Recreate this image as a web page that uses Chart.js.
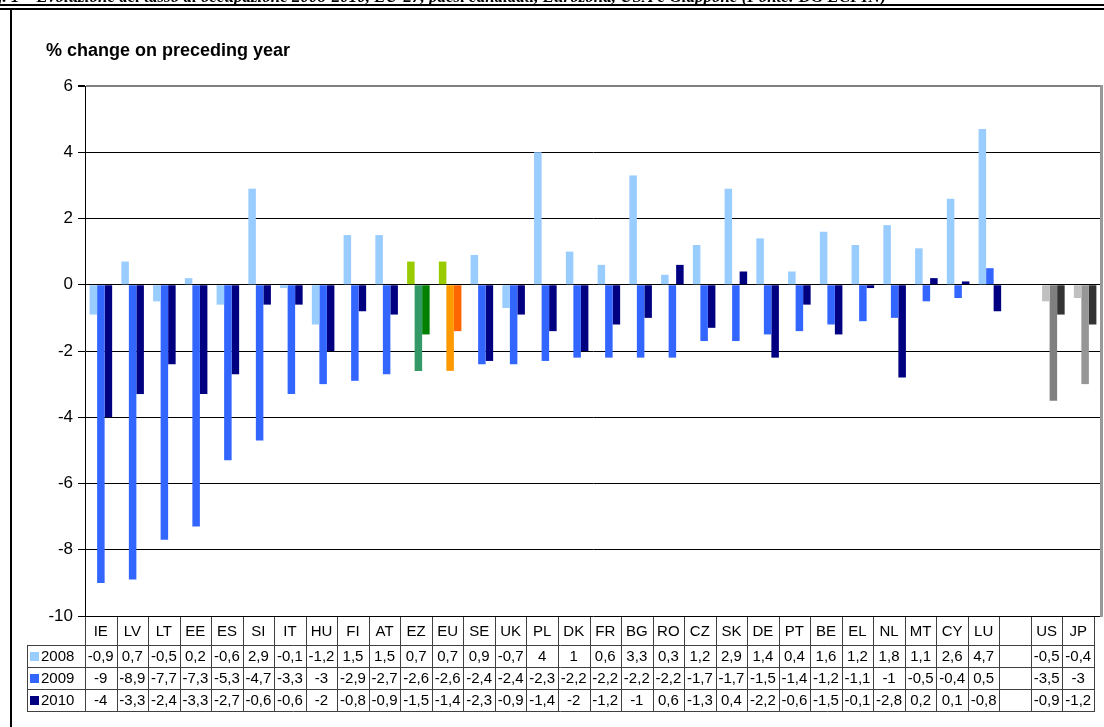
<!DOCTYPE html>
<html>
<head>
<meta charset="utf-8">
<script src="https://cdn.jsdelivr.net/npm/chart.js@4/dist/chart.umd.min.js"></script>
<style>
  html, body { margin: 0; padding: 0; background: #fff; }
  #wrap { width: 1104px; height: 727px; position: relative; }
</style>
</head>
<body>
<div id="wrap"><canvas id="c" width="1104" height="727"></canvas></div>
<script>
// Employment growth, % change on preceding year
const categories = ['IE','LV','LT','EE','ES','SI','IT','HU','FI','AT','EZ','EU','SE','UK','PL','DK','FR','BG','RO','CZ','SK','DE','PT','BE','EL','NL','MT','CY','LU','','US','JP'];
const years = ['2008', '2009', '2010'];
const v2008 = [-0.9,0.7,-0.5,0.2,-0.6,2.9,-0.1,-1.2,1.5,1.5,0.7,0.7,0.9,-0.7,4,1,0.6,3.3,0.3,1.2,2.9,1.4,0.4,1.6,1.2,1.8,1.1,2.6,4.7,null,-0.5,-0.4];
const v2009 = [-9,-8.9,-7.7,-7.3,-5.3,-4.7,-3.3,-3,-2.9,-2.7,-2.6,-2.6,-2.4,-2.4,-2.3,-2.2,-2.2,-2.2,-2.2,-1.7,-1.7,-1.5,-1.4,-1.2,-1.1,-1,-0.5,-0.4,0.5,null,-3.5,-3];
const v2010 = [-4,-3.3,-2.4,-3.3,-2.7,-0.6,-0.6,-2,-0.8,-0.9,-1.5,-1.4,-2.3,-0.9,-1.4,-2,-1.2,-1,0.6,-1.3,0.4,-2.2,-0.6,-1.5,-0.1,-2.8,0.2,0.1,-0.8,null,-0.9,-1.2];
const yTicks = [6, 4, 2, 0, -2, -4, -6, -8, -10];

// series colours, with aggregates and non-EU economies highlighted
const seriesColors = ['#99ccff', '#3366ff', '#000080'];
const highlight = {
  EZ: ['#99cc00', '#339966', '#008000'],
  EU: ['#99cc00', '#ff9900', '#ff6600'],
  US: ['#c0c0c0', '#808080', '#333333'],
  JP: ['#c0c0c0', '#969696', '#333333']
};
const colorsFor = (i) => categories.map(c => highlight[c] ? highlight[c][i] : seriesColors[i]);
const seriesValues = [v2008, v2009, v2010];

const fmt = (v) => v === null || v === undefined ? '' : String(v).replace('.', ',');

// table geometry under the plot
const TBL = { left: 85, right: 1094, legendLeft: 27, headTop: 617, rowTops: [645, 667, 689], rowBottom: 711 };

const framePlugin = {
  id: 'frame',
  beforeDraw(chart) {
    const ctx = chart.ctx;
    ctx.save();
    ctx.fillStyle = '#fff';
    ctx.fillRect(0, 0, chart.width, chart.height);
    // caption running off the top edge
    ctx.fillStyle = '#000';
    ctx.font = 'bold italic 17px "Liberation Serif"';
    ctx.textBaseline = 'alphabetic';
    ctx.textAlign = 'left';
    ctx.fillText('Fig. 1 – Evoluzione del tasso di occupazione 2008-2010, EU-27, paesi candidati, Eurozona, USA e Giappone (Fonte: DG ECFIN)', -22, 2);
    // double rule and box edge
    ctx.fillRect(0, 4, chart.width, 2);
    ctx.fillRect(0, 8, chart.width, 2);
    ctx.fillRect(10, 8, 2, chart.height - 8);
    ctx.restore();
  },
  afterDraw(chart) {
    const ctx = chart.ctx;
    const area = chart.chartArea;
    ctx.save();
    // unit title
    ctx.fillStyle = '#000';
    ctx.font = 'bold 18px "Liberation Sans", Arial, sans-serif';
    ctx.textAlign = 'left';
    ctx.textBaseline = 'alphabetic';
    ctx.fillText('% change on preceding year', 46, 56);
    // plot frame on the right
    ctx.fillStyle = '#999';
    ctx.fillRect(area.right - 1, area.top - 1, 3, area.bottom - area.top + 2);

    // data table
    const n = categories.length;
    const colW = (TBL.right - TBL.left) / n;
    ctx.strokeStyle = '#404040';
    ctx.lineWidth = 1;
    const line = (x1, y1, x2, y2) => { ctx.beginPath(); ctx.moveTo(x1, y1); ctx.lineTo(x2, y2); ctx.stroke(); };
    // horizontal rules
    TBL.rowTops.forEach(y => line(TBL.legendLeft, y + 0.5, TBL.right, y + 0.5));
    line(TBL.legendLeft, TBL.rowBottom + 0.5, TBL.right, TBL.rowBottom + 0.5);
    // vertical rules
    for (let i = 0; i <= n; i++) {
      const x = Math.round(TBL.left + i * colW) + 0.5;
      line(x, TBL.headTop, x, TBL.rowBottom + 1);
    }
    line(TBL.legendLeft + 0.5, TBL.rowTops[0], TBL.legendLeft + 0.5, TBL.rowBottom + 1);

    ctx.fillStyle = '#000';
    ctx.font = '15px "Liberation Sans", Arial, sans-serif';
    ctx.textAlign = 'center';
    ctx.textBaseline = 'middle';
    categories.forEach((c, i) => {
      ctx.fillText(c, TBL.left + (i + 0.5) * colW, (TBL.headTop + TBL.rowTops[0]) / 2 + 1);
    });
    seriesValues.forEach((vals, r) => {
      const top = TBL.rowTops[r];
      const bottom = r < 2 ? TBL.rowTops[r + 1] : TBL.rowBottom;
      const cy = (top + bottom) / 2 + 1;
      // legend key
      ctx.fillStyle = seriesColors[r];
      ctx.fillRect(TBL.legendLeft + 3, cy - 5, 9, 9);
      ctx.fillStyle = '#000';
      ctx.textAlign = 'left';
      ctx.fillText(years[r], TBL.legendLeft + 14, cy);
      ctx.textAlign = 'center';
      vals.forEach((v, i) => {
        ctx.fillText(fmt(v), TBL.left + (i + 0.5) * colW, cy);
      });
    });
    ctx.restore();
  }
};

new Chart(document.getElementById('c'), {
  type: 'bar',
  data: {
    labels: categories,
    datasets: seriesValues.map((vals, i) => ({
      label: years[i],
      data: vals,
      backgroundColor: colorsFor(i),
      borderWidth: 0,
      categoryPercentage: 0.71,
      barPercentage: 1.0
    }))
  },
  options: {
    responsive: false,
    animation: false,
    devicePixelRatio: 1,
    layout: { padding: { left: 0, right: 3, top: 86, bottom: 111 } },
    plugins: {
      legend: { display: false },
      tooltip: { enabled: false },
      title: { display: false }
    },
    scales: {
      x: { display: false },
      y: {
        min: -10,
        max: 6,
        afterFit(scale) { scale.width = 85; },
        afterBuildTicks(scale) { scale.ticks = yTicks.map(v => ({ value: v })); },
        ticks: {
          color: '#000',
          padding: 5,
          font: { family: '"Liberation Sans", Arial, sans-serif', size: 17 },
          callback: (v) => String(v)
        },
        grid: {
          color: (ctx) => ctx.tick && ctx.tick.value === 6 ? '#808080' : '#000',
          lineWidth: (ctx) => ctx.tick && ctx.tick.value === 6 ? 2 : 1,
          tickColor: '#000',
          tickLength: 7,
          drawTicks: true
        },
        border: { color: '#000', width: 1 }
      }
    }
  },
  plugins: [framePlugin]
});
</script>
</body>
</html>
